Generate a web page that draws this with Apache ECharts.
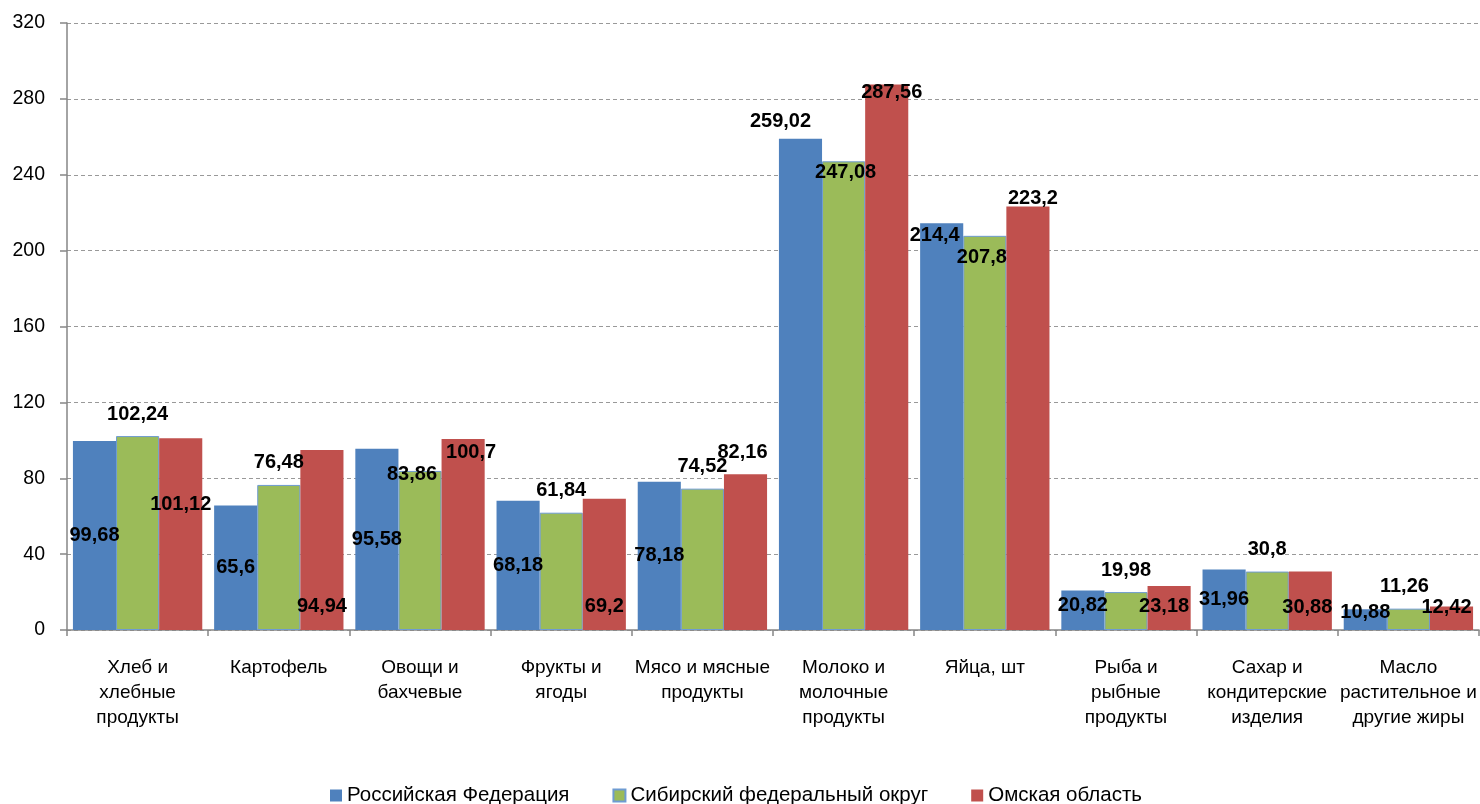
<!DOCTYPE html>
<html>
<head>
<meta charset="utf-8">
<script src="https://cdn.jsdelivr.net/npm/echarts@6/dist/echarts.min.js"></script>
<style>html,body{margin:0;padding:0;background:#fff}#c{width:1480px;height:804px}</style>
</head>
<body>
<div id="c"></div>
<script>
const categories = [
  "Хлеб и\nхлебные\nпродукты", "Картофель", "Овощи и\nбахчевые", "Фрукты и\nягоды",
  "Мясо и мясные\nпродукты", "Молоко и\nмолочные\nпродукты", "Яйца, шт",
  "Рыба и\nрыбные\nпродукты", "Сахар и\nкондитерские\nизделия", "Масло\nрастительное и\nдругие жиры"
];
const seriesNames = ["Российская Федерация", "Сибирский федеральный округ", "Омская область"];
const russia  = [99.68, 65.6, 95.58, 68.18, 78.18, 259.02, 214.4, 20.82, 31.96, 10.88];
const siberia = [102.24, 76.48, 83.86, 61.84, 74.52, 247.08, 207.8, 19.98, 30.8, 11.26];
const omsk    = [101.12, 94.94, 100.7, 69.2, 82.16, 287.56, 223.2, 23.18, 30.88, 12.42];
const yTicks = { min: 0, max: 320, interval: 40 };

// label placement styling: [position, dx, dy]
const labelLayout = [
  [['inside',0,0],['inside',0,0],['inside',0,0],['inside',0,0],['inside',0,0],['top',-20,5],['insideTop',-7,-3],['inside',0,-5],['inside',0,0],['inside',0,-7]],
  [['top',0,0],['top',0,0],['insideTop',-8,-11],['top',0,0],['top',0,0],['insideTop',2,-4],['insideTop',-3,7],['top',0,0],['top',0,0],['top',-4,0]],
  [['inside',0,-30],['insideBottom',0,0],['insideTop',8,-2],['insideBottom',0,0],['top',-3,0],['insideTop',5,-7],['top',5,14],['inside',-5,-2],['inside',-3,7],['insideTop',-5,-14]]
];
const colors = ['#4F81BD', '#9BBB59', '#C0504D'];
const FONT = 'Liberation Sans';

function dist(pos){ return pos === 'top' ? 12 : pos === 'insideBottom' ? 14 : 5; }

function makeSeries(idx, values){
  return {
    name: seriesNames[idx],
    type: 'bar',
    barGap: '0%',
    barCategoryGap: '8.4%',
    itemStyle: idx === 1 ? { color: colors[idx], borderColor: '#6E9BD2', borderWidth: 1 } : { color: colors[idx] },
    emphasis: { disabled: true },
    data: values.map((v, i) => {
      const l = labelLayout[idx][i];
      return {
        value: v,
        label: { show: true, position: l[0], distance: dist(l[0]), offset: [l[1], l[2]] }
      };
    }),
    label: {
      show: true,
      color: '#000',
      fontFamily: FONT,
      fontWeight: 'bold',
      fontSize: 20,
      formatter: p => String(p.value).replace('.', ',')
    }
  };
}

const chart = echarts.init(document.getElementById('c'));
chart.setOption({
  animation: false,
  textStyle: { fontFamily: FONT },
  grid: { left: 67, right: 1, top: 23, bottom: 174, containLabel: false },
  legend: {
    top: 780, left: 325,
    itemWidth: 12, itemHeight: 12, itemGap: 43,
    icon: 'rect',
    textStyle: { fontFamily: FONT, fontSize: 20.5, color: '#000' },
    data: seriesNames
  },
  xAxis: {
    type: 'category',
    data: categories,
    axisLine: { lineStyle: { color: '#868686', width: 1.5 } },
    axisTick: { show: true, length: 6, interval: 0, lineStyle: { color: '#868686', width: 1.5 } },
    axisLabel: { interval: 0, margin: 25, fontSize: 19, lineHeight: 25, color: '#000', fontFamily: FONT }
  },
  yAxis: {
    type: 'value',
    min: yTicks.min, max: yTicks.max, interval: yTicks.interval,
    axisLine: { show: true, lineStyle: { color: '#868686', width: 1.5 } },
    axisTick: { show: true, length: 7, lineStyle: { color: '#868686', width: 1.5 } },
    axisLabel: { margin: 22, fontSize: 19.5, color: '#000', fontFamily: FONT },
    splitLine: { show: true, lineStyle: { color: '#999999', type: [4, 3], width: 1 } }
  },
  series: [makeSeries(0, russia), makeSeries(1, siberia), makeSeries(2, omsk)]
});
</script>
</body>
</html>
